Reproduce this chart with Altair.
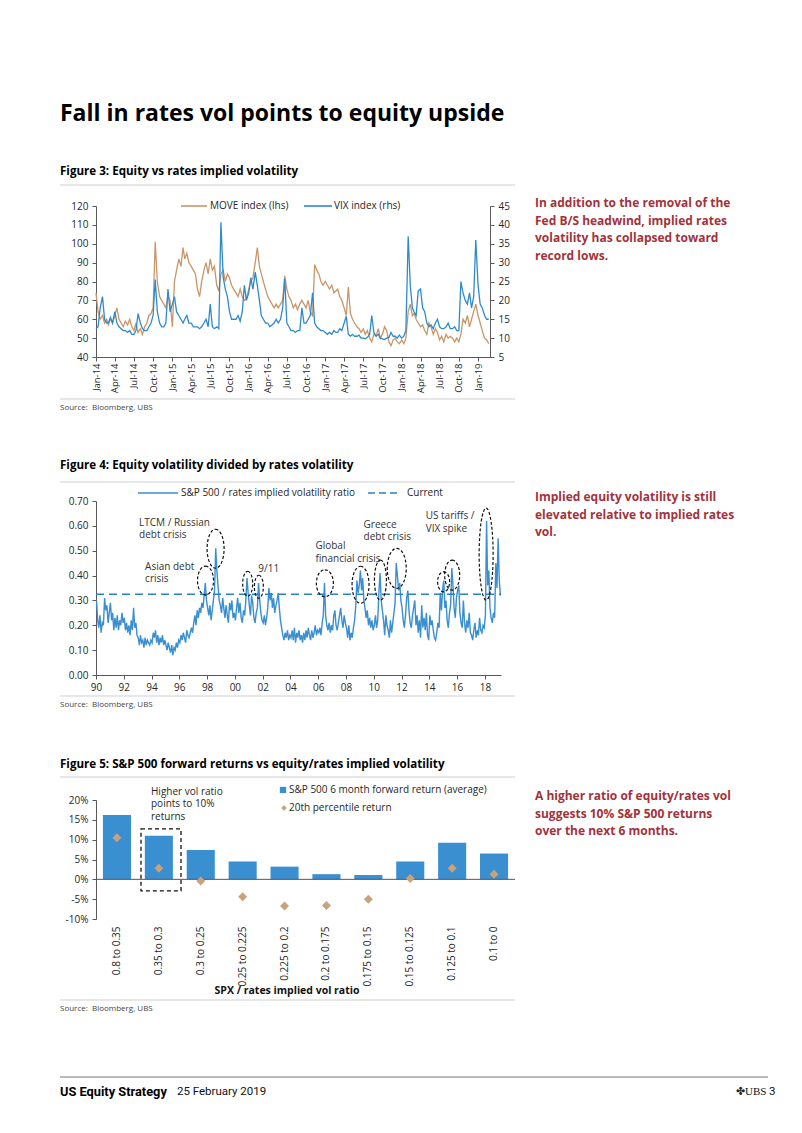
import altair as alt
import pandas as pd

FONT = "Open Sans"
BLUE = "#3a8fd0"
VIX_BLUE = "#2f8acb"
TAN = "#c8966b"
DIAMOND = "#c9a27c"
RED = "#a3323a"
AXIS = "#595959"
LABEL = "#262626"
SEP = "#cfcfcf"

# ---------------- page texts ----------------
TITLE = "Fall in rates vol points to equity upside"
CAP3 = "Figure 3: Equity vs rates implied volatility"
CAP4 = "Figure 4: Equity volatility divided by rates volatility"
CAP5 = "Figure 5: S&P 500 forward returns vs equity/rates implied volatility"
SOURCE = "Source:\u00a0 Bloomberg, UBS"
RED3 = ["In addition to the removal of the", "Fed B/S headwind, implied rates",
        "volatility has collapsed toward", "record lows."]
RED4 = ["Implied equity volatility is still", "elevated relative to implied rates", "vol."]
RED5 = ["A higher ratio of equity/rates vol", "suggests 10% S&P 500 returns", "over the next 6 months."]
FOOT_LEFT = "US Equity Strategy"
FOOT_DATE = "25 February 2019"

# ---------------- Figure 3 data (3 readings per month: 1st, 11th, 21st) ----------------
MOVE_2014 = [74, 64, 60, 62, 58, 60, 57, 60, 58, 62, 66, 60, 58, 56, 59, 57, 60, 56,
             54, 58, 53, 55, 52, 56, 58, 62, 63, 66, 101, 80, 72, 70, 68, 66, 72, 70]
MOVE_2015 = [56, 80, 86, 92, 88, 98, 92, 95, 90, 88, 86, 84, 76, 72, 80, 86, 90, 84,
             92, 86, 88, 78, 75, 84, 86, 80, 84, 82, 78, 76, 74, 72, 76, 72, 70, 71]
MOVE_2016 = [76, 80, 82, 90, 98, 88, 84, 80, 76, 72, 70, 68, 66, 68, 66, 68, 70, 83,
             76, 72, 70, 66, 68, 65, 68, 70, 68, 66, 70, 64, 62, 89, 86, 84, 80, 78]
MOVE_2017 = [80, 78, 76, 78, 74, 75, 76, 72, 70, 66, 62, 77, 63, 60, 58, 56, 55, 53,
             55, 52, 54, 50, 48, 52, 51, 55, 50, 52, 56, 54, 48, 46, 49, 50, 48, 47]
MOVE_2018 = [49, 47, 50, 64, 68, 62, 63, 60, 58, 56, 57, 54, 52, 58, 56, 52, 55, 53,
             49, 51, 48, 52, 50, 51, 50, 48, 50, 48, 52, 60, 58, 62, 56, 60, 64, 68]
MOVE_2019 = [62, 58, 54, 50, 49, 47]

VIX_2014 = [12.5, 13, 18, 21, 15, 14, 14, 15.5, 14, 17, 14, 13, 12.5, 12, 12, 11.5, 12, 11,
            11, 12, 16.5, 14, 12.5, 12, 12, 13, 14, 16, 25.5, 17, 14, 13, 13, 14, 23, 17]
VIX_2015 = [19, 21, 17, 16, 15, 14, 15, 16, 14, 14, 13, 13, 13, 12.5, 13, 14, 15, 13,
            19, 13, 12.5, 13, 12.5, 40.7, 26, 23, 21, 17, 15, 15, 15, 16, 14.5, 17, 24, 20]
VIX_2016 = [22, 26, 23, 27.5, 24, 20, 16, 15, 14, 14, 13, 13.5, 14, 15, 14, 15, 18, 25.8,
            14, 13, 12, 12, 11.5, 12, 12, 18, 14, 14, 15, 16, 22, 14, 13, 12.5, 12, 12]
VIX_2017 = [11.5, 11, 11.5, 11, 12, 11.5, 11.5, 12.5, 12, 14, 15.8, 11, 10.5, 11, 10.5, 10.5, 10.8, 10,
            10, 9.8, 10.2, 11, 16, 11.5, 10.5, 11, 10, 9.8, 9.6, 10, 10.2, 11.5, 10.5, 10.5, 10, 10.8]
VIX_2018 = [10, 10.5, 12, 37, 24, 18, 17, 16, 22.5, 23, 18, 17, 14, 13, 13.5, 12.5, 14, 15,
            13, 12.5, 12.5, 13, 14, 12.5, 12.5, 13, 12, 12, 25, 22, 20, 19, 22, 18, 21, 36]
VIX_2019 = [24, 19, 18, 16, 15, 15]

MOVE = MOVE_2014 + MOVE_2015 + MOVE_2016 + MOVE_2017 + MOVE_2018 + MOVE_2019
VIX = VIX_2014 + VIX_2015 + VIX_2016 + VIX_2017 + VIX_2018 + VIX_2019
FIG3_DAYS = [1, 11, 21]
DATES3 = [f"{y}-{m:02d}-{d:02d}" for y in range(2014, 2020) for m in range(1, 13)
          for d in FIG3_DAYS][:len(MOVE)]
FIG3_TICKS = ["2014-01", "2014-04", "2014-07", "2014-10", "2015-01", "2015-04", "2015-07",
              "2015-10", "2016-01", "2016-04", "2016-07", "2016-10", "2017-01", "2017-04",
              "2017-07", "2017-10", "2018-01", "2018-04", "2018-07", "2018-10", "2019-01"]
MOVE_TICKS = [40, 50, 60, 70, 80, 90, 100, 110, 120]
VIX_TICKS = [5, 10, 15, 20, 25, 30, 35, 40, 45]
LEG3 = ["MOVE index (lhs)", "VIX index (rhs)"]

# ---------------- Figure 4 data (monthly readings) ----------------
R1990 = [0.30, 0.22, 0.19, 0.24, 0.17, 0.21, 0.20, 0.31, 0.26, 0.28, 0.21, 0.25]
R1991 = [0.29, 0.22, 0.25, 0.18, 0.23, 0.19, 0.24, 0.18, 0.22, 0.20, 0.25, 0.21]
R1992 = [0.23, 0.18, 0.21, 0.17, 0.20, 0.16, 0.22, 0.18, 0.27, 0.19, 0.21, 0.16]
R1993 = [0.15, 0.12, 0.16, 0.13, 0.14, 0.11, 0.15, 0.12, 0.14, 0.13, 0.12, 0.14]
R1994 = [0.13, 0.17, 0.15, 0.18, 0.13, 0.16, 0.12, 0.15, 0.13, 0.16, 0.12, 0.14]
R1995 = [0.12, 0.10, 0.13, 0.11, 0.09, 0.12, 0.08, 0.11, 0.10, 0.13, 0.11, 0.14]
R1996 = [0.13, 0.16, 0.14, 0.17, 0.15, 0.13, 0.18, 0.16, 0.15, 0.17, 0.19, 0.17]
R1997 = [0.21, 0.24, 0.20, 0.26, 0.23, 0.27, 0.25, 0.29, 0.27, 0.32, 0.37, 0.30]
R1998 = [0.27, 0.24, 0.28, 0.22, 0.26, 0.30, 0.34, 0.51, 0.42, 0.36, 0.30, 0.28]
R1999 = [0.25, 0.31, 0.27, 0.23, 0.28, 0.24, 0.21, 0.29, 0.26, 0.30, 0.23, 0.25]
R2000 = [0.22, 0.27, 0.31, 0.25, 0.29, 0.23, 0.21, 0.26, 0.24, 0.30, 0.39, 0.33]
R2001 = [0.28, 0.24, 0.32, 0.29, 0.23, 0.21, 0.25, 0.27, 0.37, 0.30, 0.25, 0.22]
R2002 = [0.21, 0.24, 0.20, 0.23, 0.27, 0.35, 0.30, 0.33, 0.27, 0.31, 0.25, 0.28]
R2003 = [0.30, 0.33, 0.27, 0.22, 0.19, 0.16, 0.14, 0.17, 0.15, 0.18, 0.14, 0.16]
R2004 = [0.15, 0.18, 0.14, 0.19, 0.13, 0.17, 0.15, 0.18, 0.14, 0.16, 0.13, 0.17]
R2005 = [0.14, 0.18, 0.15, 0.19, 0.16, 0.14, 0.18, 0.15, 0.17, 0.20, 0.16, 0.18]
R2006 = [0.17, 0.19, 0.16, 0.21, 0.24, 0.37, 0.24, 0.20, 0.18, 0.21, 0.17, 0.20]
R2007 = [0.18, 0.24, 0.26, 0.20, 0.18, 0.21, 0.24, 0.27, 0.22, 0.19, 0.24, 0.21]
R2008 = [0.19, 0.15, 0.20, 0.14, 0.17, 0.15, 0.19, 0.22, 0.28, 0.38, 0.33, 0.36]
R2009 = [0.42, 0.34, 0.39, 0.30, 0.27, 0.23, 0.26, 0.20, 0.23, 0.19, 0.22, 0.18]
R2010 = [0.20, 0.24, 0.19, 0.22, 0.33, 0.41, 0.30, 0.26, 0.22, 0.16, 0.24, 0.20]
R2011 = [0.18, 0.15, 0.22, 0.17, 0.21, 0.25, 0.29, 0.45, 0.40, 0.34, 0.37, 0.30]
R2012 = [0.27, 0.22, 0.19, 0.24, 0.31, 0.34, 0.26, 0.21, 0.19, 0.24, 0.27, 0.30]
R2013 = [0.20, 0.24, 0.17, 0.22, 0.15, 0.28, 0.19, 0.23, 0.18, 0.25, 0.16, 0.14]
R2014 = [0.24, 0.20, 0.22, 0.18, 0.15, 0.14, 0.17, 0.21, 0.19, 0.33, 0.26, 0.34]
R2015 = [0.38, 0.27, 0.30, 0.22, 0.19, 0.25, 0.28, 0.43, 0.36, 0.27, 0.23, 0.31]
R2016 = [0.34, 0.36, 0.25, 0.21, 0.19, 0.30, 0.21, 0.17, 0.22, 0.19, 0.25, 0.17]
R2017 = [0.16, 0.14, 0.18, 0.21, 0.15, 0.18, 0.16, 0.23, 0.18, 0.17, 0.20, 0.19]
R2018 = [0.24, 0.62, 0.36, 0.42, 0.27, 0.23, 0.21, 0.25, 0.23, 0.45, 0.35, 0.55]
R2019 = [0.38, 0.32]
RATIO = (R1990 + R1991 + R1992 + R1993 + R1994 + R1995 + R1996 + R1997 + R1998 + R1999 +
         R2000 + R2001 + R2002 + R2003 + R2004 + R2005 + R2006 + R2007 + R2008 + R2009 +
         R2010 + R2011 + R2012 + R2013 + R2014 + R2015 + R2016 + R2017 + R2018 + R2019)
DATES4 = [f"{y}-{m:02d}-15" for y in range(1990, 2020) for m in range(1, 13)][:len(RATIO)]
CURRENT = 0.325
FIG4_YEARS = list(range(1990, 2019, 2))
RATIO_TICKS = [0.0, 0.1, 0.2, 0.3, 0.4, 0.5, 0.6, 0.7]
LEG4 = ["S&P 500 / rates implied volatility ratio", "Current"]
# annotation ellipses: centre date, centre value, width px, height px
ELL_DATE = ["1997-11-20", "1998-08-12", "2000-12-03", "2001-09-23", "2006-06-25", "2009-01-18",
            "2010-06-25", "2011-08-28", "2015-01-12", "2015-08-25", "2018-02-03"]
ELL_Y = [0.380, 0.508, 0.367, 0.355, 0.369, 0.363, 0.382, 0.429, 0.375, 0.402, 0.486]
ELL_W = [16, 17, 10, 9, 17, 17, 12, 19, 12, 15, 14]
ELL_H = [29, 39, 25, 23, 27, 37, 40, 40, 20, 30, 92]
ANN_DATE = ["1993-02-06", "1993-02-06", "1993-07-15", "1993-07-15", "2001-09-08", "2005-10-20",
            "2005-10-20", "2009-04-08", "2009-04-08", "2013-09-27", "2013-09-27"]
ANN_Y = [0.613, 0.563, 0.436, 0.386, 0.426, 0.517, 0.467, 0.605, 0.555, 0.640, 0.587]
ANN_TEXT = ["LTCM / Russian", "debt crisis", "Asian debt", "crisis", "9/11", "Global",
            "financial crisis", "Greece", "debt crisis", "US tariffs /", "VIX spike"]

# ---------------- Figure 5 data ----------------
BUCKETS = ["0.8 to 0.35", "0.35 to 0.3", "0.3 to 0.25", "0.25 to 0.225", "0.225 to 0.2",
           "0.2 to 0.175", "0.175 to 0.15", "0.15 to 0.125", "0.125 to 0.1", "0.1 to 0"]
AVG_RET = [0.162, 0.110, 0.074, 0.045, 0.032, 0.013, 0.011, 0.045, 0.092, 0.065]
P20_RET = [0.105, 0.028, -0.004, -0.044, -0.067, -0.066, -0.050, 0.002, 0.028, 0.013]
RET_TICKS = [-0.10, -0.05, 0.0, 0.05, 0.10, 0.15, 0.20]
LEG5 = ["S&P 500 6 month forward return (average)", "20th percentile return"]
ANN5 = ["Higher vol ratio", "points to 10%", "returns"]
XTITLE5 = "SPX / rates implied vol ratio"


def ts(s):
    """ISO date string -> UTC epoch milliseconds."""
    return int(pd.Timestamp(s, tz="UTC").value // 10**6)


def one():
    return pd.DataFrame({"a": [0]})


def text_layer(t, x, y, size=10, weight="normal", color=LABEL, align="left",
               baseline="middle", font=FONT):
    return alt.Chart(pd.DataFrame({"t": [t]})).mark_text(
        align=align, baseline=baseline, fontSize=size, fontWeight=weight, color=color, font=font
    ).encode(x=alt.value(x), y=alt.value(y), text="t:N")


def hline(x1, x2, y, color, width=1.0, dash=None):
    kw = dict(color=color, strokeWidth=width)
    if dash:
        kw["strokeDash"] = dash
    return alt.Chart(one()).mark_rule(**kw).encode(x=alt.value(x1), x2=alt.value(x2), y=alt.value(y))


def bound(top, bottom):
    return alt.Chart(one()).mark_rect(opacity=0).encode(
        x=alt.value(-88), x2=alt.value(698), y=alt.value(top), y2=alt.value(bottom))


def red_block(lines, y0, step=17.5):
    return [text_layer(s, 439, y0 + i * step, size=12, weight="bold", color=RED)
            for i, s in enumerate(lines)]


# ================= Row 1 : Figure 3 =================
W1, H1 = 394, 151
df3 = pd.DataFrame({"date": DATES3, "move": MOVE, "vix": VIX})
xs3 = alt.Scale(type="utc", domain=[ts("2014-01-01"), ts("2019-02-27")])
x3 = alt.X("date:T", title=None, scale=xs3,
           axis=alt.Axis(values=[ts(s + "-01") for s in FIG3_TICKS],
                         labelExpr="utcFormat(datum.value, '%b-%y')",
                         labelAngle=-90, labelFontSize=9.5, tickSize=4, labelPadding=2,
                         labelOverlap=False, labelFlush=False, grid=False))
move_line = alt.Chart(df3).mark_line(color=TAN, strokeWidth=1.3).encode(
    x=x3,
    y=alt.Y("move:Q", title=None, scale=alt.Scale(domain=[40, 120], nice=False),
            axis=alt.Axis(values=MOVE_TICKS, orient="left", tickSize=4, labelPadding=4,
                          labelFlush=False, labelOverlap=False, grid=False)))
vix_line = alt.Chart(df3).mark_line(color=VIX_BLUE, strokeWidth=1.3).encode(
    x=alt.X("date:T", title=None, scale=xs3, axis=None),
    y=alt.Y("vix:Q", title=None, scale=alt.Scale(domain=[5, 45], nice=False),
            axis=alt.Axis(values=VIX_TICKS, orient="right", tickSize=4, labelPadding=4,
                          labelFlush=False, labelOverlap=False, grid=False)))

row1 = alt.layer(
    bound(-198, 239), move_line, vix_line,
    text_layer(TITLE, -36, -85, size=23, weight="bold", color="#000", baseline="alphabetic"),
    text_layer(CAP3, -36, -34, size=11.6, weight="bold", color="#000"),
    hline(-36, 419, -21, SEP),
    hline(85, 111, 0, TAN, 1.6), text_layer(LEG3[0], 114, 0),
    hline(208, 236, 0, VIX_BLUE, 1.6), text_layer(LEG3[1], 238, 0),
    hline(-36, 419, 193, SEP),
    text_layer(SOURCE, -36, 202, size=8, color="#444"),
    *red_block(RED3, -3),
).resolve_scale(x="independent", y="independent").properties(width=W1, height=H1)

# ================= Row 2 : Figure 4 =================
W2, H2 = 405, 174
df4 = pd.DataFrame({"date": DATES4, "ratio": RATIO})
xs4 = alt.Scale(type="utc", domain=[ts("1990-01-01"), ts("2019-03-01")])
ys4 = alt.Scale(domain=[0, 0.7], nice=False)
x4 = alt.X("date:T", title=None, scale=xs4,
           axis=alt.Axis(values=[ts(f"{y}-01-01") for y in FIG4_YEARS],
                         labelExpr="utcFormat(datum.value, '%y')",
                         labelAngle=0, tickSize=4, labelPadding=3,
                         labelFlush=False, labelOverlap=False, grid=False))
y4 = alt.Y("ratio:Q", title=None, scale=ys4,
           axis=alt.Axis(values=RATIO_TICKS, format=".2f", tickSize=4, labelPadding=4,
                         labelFlush=False, labelOverlap=False, grid=False))
ratio_line = alt.Chart(df4).mark_line(color=BLUE, strokeWidth=1.4).encode(x=x4, y=y4)
current_rule = alt.Chart(one()).mark_rule(color="#2f7fc3", strokeWidth=1.6, strokeDash=[8, 5]).encode(
    y=alt.YDatum(CURRENT, type="quantitative", scale=ys4, axis=None),
    x=alt.value(0), x2=alt.value(W2))

ell_df = pd.DataFrame({
    "date": ELL_DATE, "ratio": ELL_Y,
    "path": [f"M0,-1A{w / h:.3f},1,0,1,1,0,1A{w / h:.3f},1,0,1,1,0,-1Z" for w, h in zip(ELL_W, ELL_H)],
    "sz": [h * h for h in ELL_H],
})
ellipses = alt.Chart(ell_df).mark_point(filled=False, color="#111", strokeWidth=1.2,
                                        strokeDash=[3, 2], opacity=1).encode(
    x=alt.X("date:T", title=None, scale=xs4, axis=None),
    y=alt.Y("ratio:Q", title=None, scale=ys4, axis=None),
    shape=alt.Shape("path:N", scale=None), size=alt.Size("sz:Q", scale=None))
ann_df = pd.DataFrame({"date": ANN_DATE, "ratio": ANN_Y, "t": ANN_TEXT})
ann4 = alt.Chart(ann_df).mark_text(align="left", baseline="middle", fontSize=10,
                                   color="#333", font=FONT).encode(
    x=alt.X("date:T", title=None, scale=xs4, axis=None),
    y=alt.Y("ratio:Q", title=None, scale=ys4, axis=None), text="t:N")

row2 = alt.layer(
    bound(-56, 244), ratio_line, current_rule, ellipses, ann4,
    text_layer(CAP4, -36, -35, size=11.6, weight="bold", color="#000"),
    hline(-36, 419, -19, SEP),
    hline(42, 82, -8, BLUE, 1.6), text_layer(LEG4[0], 85, -8),
    hline(272, 302, -8, "#2f7fc3", 1.6, [7, 4]), text_layer(LEG4[1], 311, -8),
    hline(-36, 419, 195, SEP),
    text_layer(SOURCE, -36, 204, size=8, color="#444"),
    *red_block(RED4, -4),
).resolve_scale(x="independent", y="independent").properties(width=W2, height=H2)

# ================= Row 3 : Figure 5 =================
W3, H3 = 419, 119
df5 = pd.DataFrame({"cat": BUCKETS, "avg": AVG_RET, "p20": P20_RET})
xs5 = alt.Scale(domain=BUCKETS, paddingInner=0.33, paddingOuter=0.165)
ys5 = alt.Scale(domain=[-0.10, 0.20], nice=False)
x5 = alt.X("cat:N", title=None, sort=BUCKETS, scale=xs5,
           axis=alt.Axis(labelAngle=-90, ticks=False, domain=False, tickSize=0, labelPadding=7,
                         labelFontSize=10, labelOverlap=False, grid=False))
y5axis = alt.Axis(values=RET_TICKS, tickSize=4, labelPadding=4, labelFlush=False,
                  labelOverlap=False, grid=False,
                  labelExpr="(datum.value < -0.0001 ? '-' : '') + format(abs(datum.value) * 100, '.0f') + '%'")
bars = alt.Chart(df5).mark_bar(color=BLUE).encode(
    x=x5, y=alt.Y("avg:Q", title=None, scale=ys5, axis=y5axis))
diamonds = alt.Chart(df5).mark_point(shape="diamond", filled=True, size=80, color=DIAMOND,
                                     opacity=1).encode(
    x=alt.X("cat:N", title=None, sort=BUCKETS, scale=xs5, axis=None),
    y=alt.Y("p20:Q", title=None, scale=ys5, axis=None))
zero_rule = alt.Chart(one()).mark_rule(color="#555", strokeWidth=1).encode(
    y=alt.YDatum(0, type="quantitative", scale=ys5, axis=None),
    x=alt.value(0), x2=alt.value(W3))
box = alt.Chart(one()).mark_rect(fill="transparent", stroke="#111", strokeWidth=1.3,
                                 strokeDash=[4, 3]).encode(
    x=alt.value(45), x2=alt.value(85),
    y=alt.YDatum(0.127, type="quantitative", scale=ys5, axis=None),
    y2=alt.Y2Datum(-0.029))
leg_sq = alt.Chart(one()).mark_point(shape="square", filled=True, size=40, color=BLUE, opacity=1).encode(
    x=alt.value(187), y=alt.value(-10))
leg_dm = alt.Chart(one()).mark_point(shape="diamond", filled=True, size=30, color=DIAMOND, opacity=1).encode(
    x=alt.value(188), y=alt.value(8))

row3 = alt.layer(
    bound(-55, 325), bars, zero_rule, diamonds, box, leg_sq, leg_dm,
    text_layer(LEG5[0], 193, -10), text_layer(LEG5[1], 193, 8),
    *[text_layer(s, 55, -8 + i * 12.3) for i, s in enumerate(ANN5)],
    text_layer(XTITLE5, 191, 191, size=10.5, weight="bold", color="#111", align="center"),
    text_layer(CAP5, -36, -35, size=11.6, weight="bold", color="#000"),
    hline(-36, 419, -23, SEP),
    hline(-36, 419, 200, SEP),
    text_layer(SOURCE, -36, 209, size=8, color="#444"),
    *red_block(RED5, -4),
    hline(-36, 672, 277, "#777", 1.0),
    text_layer(FOOT_LEFT, -36, 292, size=12.8, weight="bold", color="#000", font="Roboto"),
    text_layer(FOOT_DATE, 81, 292, size=11.5, color="#111", font="Roboto"),
    text_layer("\u2724", 640, 292, size=11, color="#222", font="DejaVu Sans"),
    text_layer("UBS", 649, 292, size=11, color="#111", font="Liberation Serif"),
    text_layer("3", 673, 292, size=11.5, color="#111", font="Roboto"),
).resolve_scale(x="independent", y="independent").properties(width=W3, height=H3)

chart = alt.vconcat(row1, row2, row3, spacing=0).properties(
    padding=0, background="white"
).configure_view(stroke=None).configure_axis(
    domainColor=AXIS, tickColor=AXIS, labelColor=LABEL, labelFont=FONT, labelFontSize=10,
    grid=False
)

chart.save("out.html", embed_options={"renderer": "svg", "actions": False})
